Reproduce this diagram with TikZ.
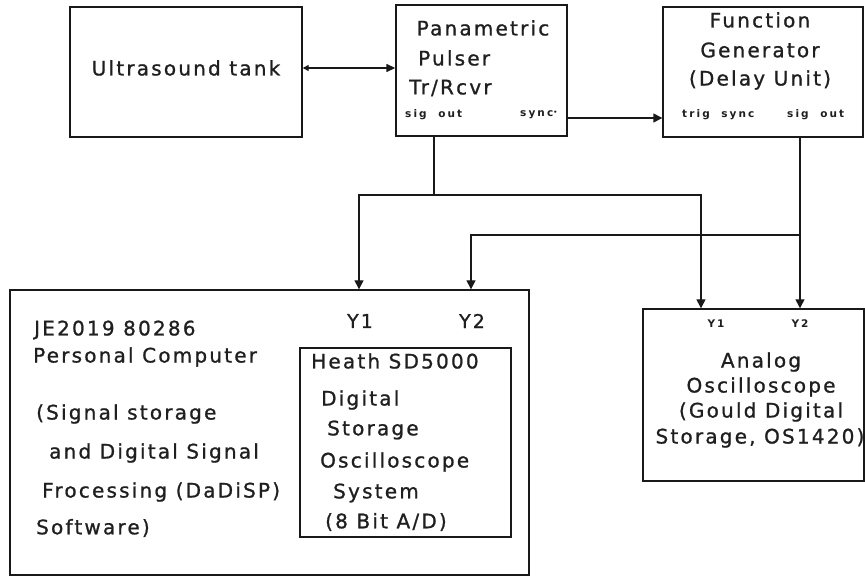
\documentclass[tikz,border=0pt]{standalone}
\usepackage{fontspec}
\setmainfont{DejaVu Sans}
\newfontfamily\lblfam[LetterSpace=11,FakeBold=1]{DejaVu Sans}
\newfontfamily\smlfam[LetterSpace=20]{DejaVu Sans}
\usetikzlibrary{arrows.meta}
\tikzset{
  box/.style={draw, line width=1.4pt, inner sep=0pt, draw=black!90},
  lbl/.style={font=\lblfam\fontsize{20}{22}\selectfont, inner sep=0pt, text=black!88},
  slbl/.style={font=\smlfam\bfseries\fontsize{10.5}{12}\selectfont, inner sep=0pt, text=black!88},
  ylbl/.style={font=\lblfam\fontsize{19}{22}\selectfont, inner sep=0pt, text=black!88},
  wire/.style={line width=1.4pt, draw=black!90},
  conn/.style={line width=1.4pt, draw=black!90, -{Triangle[length=9pt,width=9pt]}},
  biconn/.style={line width=1.4pt, draw=black!90, {Triangle[length=6pt,width=6pt]}-{Triangle[length=9pt,width=8pt]}}
}
\begin{document}
\begin{tikzpicture}[x=1pt,y=-1pt]
\useasboundingbox (0,0) rectangle (865,577);
% boxes
\node[box, minimum width=232pt, minimum height=130pt] (tank) at (186,72) {};
\node[box, minimum width=171pt, minimum height=131pt] (pulser) at (481.5,70.5) {};
\node[box, minimum width=200pt, minimum height=130pt] (fg) at (763,72) {};
\node[box, minimum width=519pt, minimum height=285pt] (pc) at (269.5,432.5) {};
\node[box, minimum width=211pt, minimum height=189pt] (dso) at (405.5,442.5) {};
\node[box, minimum width=221pt, minimum height=172pt] (an) at (753.5,395) {};
% tank text
\node[lbl] (t1) at (186,68) {Ultrasound tank};
% pulser text
\node[lbl] (p1) at (483,28) {Panametric};
\node[lbl, anchor=west] (p2) at (418,58) {Pulser};
\node[lbl, anchor=west] (p3) at (409,88) {Tr/Rcvr};
\node[slbl, anchor=west] (p4) at (405,115) {sig\ \ out};
\node[slbl, anchor=west] (p5) at (520,115) {sync\raisebox{2pt}{\scalebox{0.6}{•}}};
% function generator text
\node[lbl] (f1) at (760,20) {Function};
\node[lbl] (f2) at (760,50) {Generator};
\node[lbl] (f3) at (760,80) {(Delay Unit)};
\node[slbl, anchor=west] (f4) at (682,115) {trig\ \ sync};
\node[slbl, anchor=west] (f5) at (787,115) {sig\ \ out};
% PC text
\node[lbl, anchor=west] (c1) at (34,330) {JE2019 80286};
\node[lbl, anchor=west] (c2) at (33,357) {Personal Computer};
\node[lbl, anchor=west] (c3) at (36,414) {(Signal storage};
\node[lbl, anchor=west] (c4) at (49,453) {and Digital Signal};
\node[lbl, anchor=west] (c5) at (42,492) {Frocessing (DaDiSP)};
\node[lbl, anchor=west] (c6) at (36,528) {Software)};
\node[ylbl] (cy1) at (360,321) {Y1};
\node[ylbl] (cy2) at (472,321) {Y2};
% DSO text
\node[lbl, anchor=west] (d1) at (311,361) {Heath SD5000};
\node[lbl, anchor=west] (d2) at (321,400) {Digital};
\node[lbl, anchor=west] (d3) at (327,430) {Storage};
\node[lbl, anchor=west] (d4) at (320,462) {Oscilloscope};
\node[lbl, anchor=west] (d5) at (333,493) {System};
\node[lbl, anchor=west] (d6) at (325,522) {(8 Bit A/D)};
% analog text
\node[slbl] (ay1) at (716,324) {Y1};
\node[slbl] (ay2) at (800,324) {Y2};
\node[lbl] (a1) at (761,362) {Analog};
\node[lbl] (a2) at (761,387) {Oscilloscope};
\node[lbl] (a3) at (761,412) {(Gould Digital};
\node[lbl] (a4) at (760,438) {Storage, OS1420)};
% ports / junctions
\coordinate (j1) at (434,195);
\coordinate (j2) at (800,235);
\coordinate (pcY1) at (pc.north -| 359,0);
\coordinate (pcY2) at (pc.north -| 471,0);
\coordinate (anY1) at (an.north -| 701,0);
\coordinate (anY2) at (an.north -| 800,0);
% connectors
\draw[biconn] ([yshift=4pt]tank.east) -- ([yshift=4pt]tank.east -| pulser.west);
\draw[conn] ([yshift=-47.5pt]pulser.east) -- ([yshift=-47.5pt]pulser.east -| fg.west);
\draw[wire] (pulser.south -| j1) -- (j1);
\draw[conn] (j1) -| (pcY1);
\draw[conn] (j1) -| (anY1);
\draw[conn] (fg.south -| anY2) -- (anY2);
\draw[conn] (j2) -| (pcY2);
\end{tikzpicture}
\end{document}
